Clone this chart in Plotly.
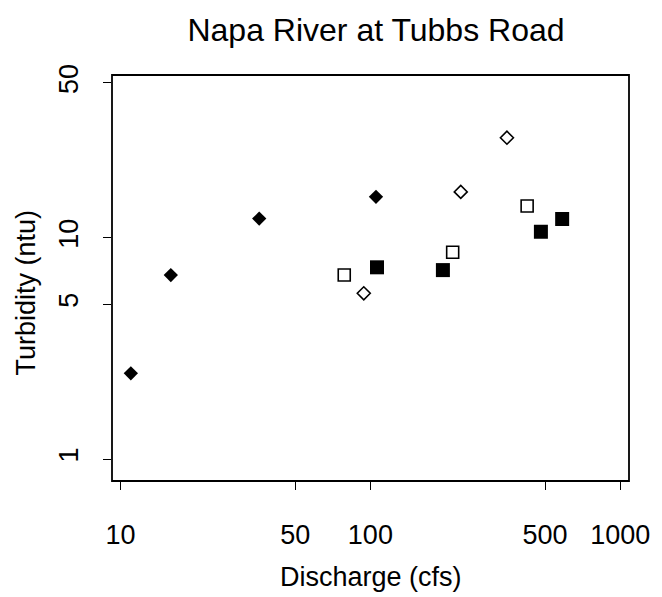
import plotly.graph_objects as go

# Data (discharge in cfs, turbidity in ntu)
filled_diamond_x = [11.0, 15.9, 35.9, 105.3]
filled_diamond_y = [2.44, 6.78, 12.2, 15.3]
open_diamond_x = [94.1, 230.0, 352.0]
open_diamond_y = [5.61, 16.1, 28.3]
open_square_x = [78.6, 213.5, 424.0]
open_square_y = [6.78, 8.59, 13.9]
filled_square_x = [106.3, 195.1, 481.3, 585.5]
filled_square_y = [7.35, 7.14, 10.64, 12.15]

x_ticks = [10, 50, 100, 500, 1000]
y_ticks = [1, 5, 10, 50]

title_text = "Napa River at Tubbs Road"
x_title = "Discharge (cfs)"
y_title = "Turbidity (ntu)"

FONT = "Liberation Sans, Arial, sans-serif"

fig = go.Figure()
fig.add_trace(go.Scatter(x=filled_diamond_x, y=filled_diamond_y, mode="markers",
                         marker=dict(symbol="diamond", size=11, color="black",
                                     line=dict(width=0))))
fig.add_trace(go.Scatter(x=open_diamond_x, y=open_diamond_y, mode="markers",
                         marker=dict(symbol="diamond-open", size=10, color="black",
                                     line=dict(width=1.6, color="black"))))
fig.add_trace(go.Scatter(x=open_square_x, y=open_square_y, mode="markers",
                         marker=dict(symbol="square-open", size=12, color="black",
                                     line=dict(width=1.6, color="black"))))
fig.add_trace(go.Scatter(x=filled_square_x, y=filled_square_y, mode="markers",
                         marker=dict(symbol="square", size=14, color="black",
                                     line=dict(width=0))))

fig.update_layout(
    width=662, height=597,
    margin=dict(l=112, r=22, t=75, b=116),
    paper_bgcolor="white", plot_bgcolor="white",
    showlegend=False,
    font=dict(family=FONT, size=27, color="black"),
    title=dict(text=title_text, x=(112 + 640) / 2 / 662, xanchor="center",
               y=1 - 30 / 597, yanchor="middle", yref="container",
               font=dict(family=FONT, size=32, color="black")),
)

fig.update_xaxes(type="log", range=[0.966, 3.035], tickvals=x_ticks,
                 ticktext=[str(v) for v in x_ticks],
                 ticks="outside", ticklen=8, tickwidth=1.3, tickcolor="black",
                 showgrid=False, zeroline=False, showline=False,
                 ticklabelstandoff=22,
                 tickfont=dict(family=FONT, size=27, color="black"))
fig.update_yaxes(type="log", range=[-0.099, 1.735], tickvals=y_ticks,
                 ticktext=[str(v) for v in y_ticks], tickangle=-90,
                 ticks="outside", ticklen=8, tickwidth=1.3, tickcolor="black",
                 showgrid=False, zeroline=False, showline=False,
                 ticklabelstandoff=14,
                 tickfont=dict(family=FONT, size=27, color="black"))

# plot box
fig.add_shape(type="rect", xref="paper", yref="paper", x0=0, y0=0, x1=1, y1=1,
              line=dict(color="black", width=1.8))

fig.add_annotation(text=x_title, xref="paper", yref="paper",
                   x=0.5, y=-(577 - 481) / 406, xanchor="center", yanchor="middle",
                   showarrow=False, font=dict(family=FONT, size=27, color="black"))
fig.add_annotation(text=y_title, xref="paper", yref="paper",
                   x=(25 - 112.3) / 527.7, y=(481 - 292) / 406, textangle=-90,
                   xanchor="center", yanchor="middle",
                   showarrow=False, font=dict(family=FONT, size=27, color="black"))

fig.write_html("out.html")
